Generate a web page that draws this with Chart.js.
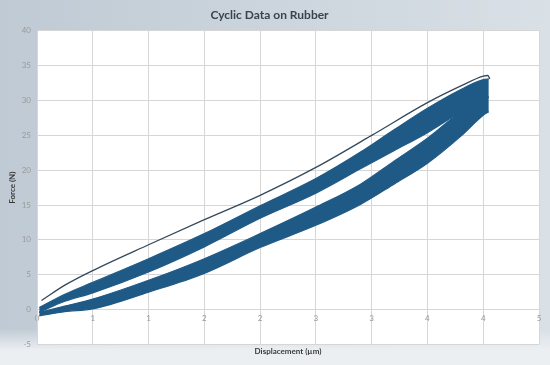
<!DOCTYPE html>
<html>
<head>
<meta charset="utf-8">
<title>Cyclic Data on Rubber</title>
<script src="https://cdn.jsdelivr.net/npm/chart.js@4.4.0/dist/chart.umd.min.js"></script>
<style>
  html, body { margin: 0; padding: 0; }
  #wrap {
    position: relative;
    width: 550px;
    height: 365px;
    background:
      linear-gradient(to bottom, rgba(236,239,242,0) 0%, rgba(236,239,242,0) 90%, rgba(236,239,242,1) 96%),
      linear-gradient(to right, #bfcad4 0%, #ccd5dd 50%, #d9e0e6 100%);
  }
</style>
</head>
<body>
<div id="wrap"><canvas id="rubberChart" width="550" height="365"></canvas></div>
<script>
// displacement (µm) where the band edges were read
const dispPts = [0.02, 0.25, 0.5, 1.0, 1.5, 2.0, 2.5, 2.9, 3.2, 3.5, 3.8, 4.0, 4.05];
// unloading band (upper), edges in N
const unloadTop    = [0.3, 2.2, 3.9, 7.3, 10.9, 14.9, 18.8, 22.6, 25.8, 28.9, 31.6, 33.0, 33.1];
const unloadStreak = [0.1, 1.9, 3.4, 6.6, 10.2, 14.2, 18.0, 21.7, 24.8, 27.9, 30.6, 32.2, 32.3];
const unloadBottom = [-0.4, 1.2, 2.4, 5.4, 9.0, 13.1, 16.7, 20.2, 22.8, 25.4, 28.4, 30.2, 30.5];
// loading band (lower), edges in N
const loadTop    = [-0.4, 0.5, 1.5, 4.2, 7.3, 10.9, 14.7, 18.0, 21.3, 24.6, 28.4, 30.2, 30.5];
const loadStreak = [-0.6, 0.2, 1.0, 3.6, 6.6, 10.2, 13.8, 17.0, 20.2, 23.5, 27.2, 29.5, 29.8];
const loadBottom = [-0.9, -0.3, 0.1, 2.5, 5.2, 8.9, 12.1, 15.1, 18.0, 21.0, 24.9, 27.9, 28.4];
// first cycle - the thin line above the bands
const firstDisp  = [0.04, 0.25, 0.5, 1.0, 1.5, 2.0, 2.5, 3.0, 3.5, 3.8, 4.0, 4.04, 4.06];
const firstForce = [1.3, 3.5, 5.6, 9.3, 12.9, 16.4, 20.4, 25.0, 29.7, 32.1, 33.5, 33.6, 33.1];
// excel rounds the 0.5 steps to whole numbers
const xTickLabels = ['0', '1', '1', '2', '2', '3', '3', '4', '4', '5'];

const FONT = "Lato, 'Open Sans', sans-serif";
const BAND = '#1f5a86';

function toPoints(xs, ys) {
    return xs.map((x, i) => ({ x: x, y: ys[i] }));
}

// white plot area on the grey-blue background
const plotBg = {
    id: 'plotBg',
    beforeDraw(chart) {
        const { ctx, chartArea: a } = chart;
        ctx.save();
        ctx.fillStyle = '#ffffff';
        ctx.fillRect(a.left, a.top, a.right - a.left, a.bottom - a.top);
        ctx.restore();
    }
};

const bandLine = { borderColor: BAND, borderWidth: 1.2, pointRadius: 0, cubicInterpolationMode: 'monotone' };
const streakLine = { borderColor: 'rgba(175,205,230,0.6)', borderWidth: 0.8, pointRadius: 0, cubicInterpolationMode: 'monotone', fill: false };

new Chart(document.getElementById('rubberChart'), {
    type: 'line',
    data: {
        datasets: [
            { ...bandLine, label: 'Unload top', data: toPoints(dispPts, unloadTop), fill: false },
            { ...bandLine, label: 'Unload bottom', data: toPoints(dispPts, unloadBottom), fill: '-1', backgroundColor: BAND },
            { ...bandLine, label: 'Load top', data: toPoints(dispPts, loadTop), fill: false },
            { ...bandLine, label: 'Load bottom', data: toPoints(dispPts, loadBottom), fill: '-1', backgroundColor: BAND },
            { ...streakLine, label: 'Unload streak', data: toPoints(dispPts, unloadStreak) },
            { ...streakLine, label: 'Load streak', data: toPoints(dispPts, loadStreak) },
            {
                label: 'First cycle',
                data: toPoints(firstDisp, firstForce),
                borderColor: '#34495a',
                borderWidth: 1.3,
                pointRadius: 0,
                cubicInterpolationMode: 'monotone',
                fill: false
            }
        ]
    },
    options: {
        responsive: false,
        animation: false,
        layout: { padding: { left: 0, right: 11, top: 0, bottom: 0 } },
        plugins: {
            legend: { display: false },
            tooltip: { enabled: false },
            title: {
                display: true,
                text: 'Cyclic Data on Rubber',
                color: '#37434e',
                font: { family: FONT, size: 12, weight: 'bold' },
                padding: { top: 8, bottom: 8.5 }
            },
            subtitle: {
                display: true,
                position: 'bottom',
                fullSize: false,
                text: 'Displacement (µm)',
                color: '#3a3a3a',
                font: { family: FONT, size: 8, weight: 'bold' },
                padding: { top: 2, bottom: 9 }
            }
        },
        scales: {
            x: {
                type: 'linear',
                position: { y: 0 },
                min: 0,
                max: 4.5,
                ticks: {
                    stepSize: 0.5,
                    autoSkip: false,
                    maxRotation: 0,
                    color: '#9a9a9a',
                    font: { family: FONT, size: 8 },
                    padding: 4,
                    callback: (v, i) => xTickLabels[i]
                },
                grid: { color: '#d6d6d6', drawTicks: false },
                border: { color: '#d6d6d6' }
            },
            y: {
                min: -5,
                max: 40,
                ticks: {
                    stepSize: 5,
                    color: '#9a9a9a',
                    font: { family: FONT, size: 8 },
                    padding: 6
                },
                grid: { color: '#d6d6d6', drawTicks: false },
                border: { color: '#d6d6d6' },
                title: {
                    display: true,
                    text: 'Force (N)',
                    color: '#3a3a3a',
                    font: { family: FONT, size: 8, weight: 'bold' },
                    padding: { top: 8, bottom: 0 }
                },
                afterFit: (scale) => { scale.width = 37; }
            }
        }
    },
    plugins: [plotBg]
});
</script>
</body>
</html>
